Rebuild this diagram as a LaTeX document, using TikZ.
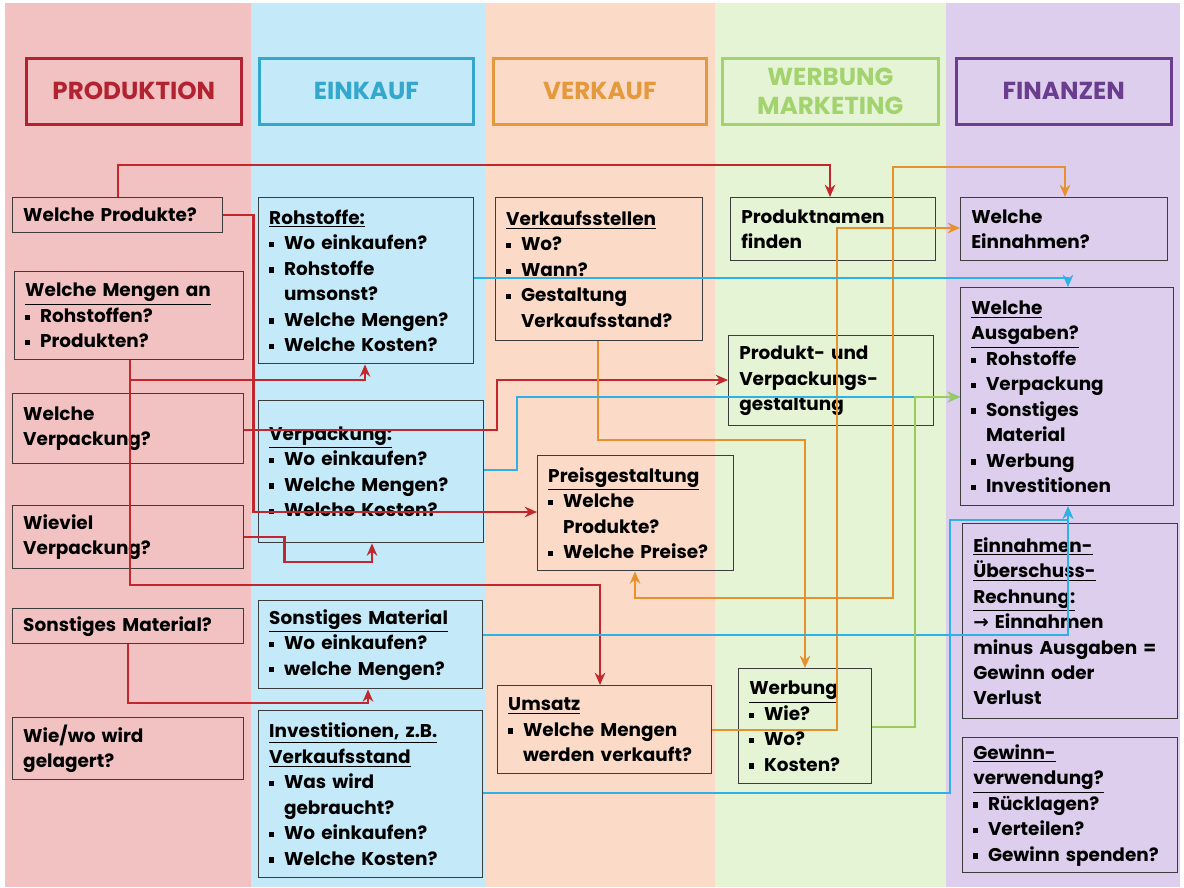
\documentclass[tikz,border=0pt]{standalone}
\usepackage{fontspec}
\setmainfont{Poppins}
\newfontfamily\arrowfont{DejaVu Sans}
\usetikzlibrary{positioning,arrows.meta,calc}

\definecolor{bgpro}{HTML}{F2C2C3}
\definecolor{bgein}{HTML}{C4E9F8}
\definecolor{bgver}{HTML}{FBDBC8}
\definecolor{bgwer}{HTML}{E6F4D6}
\definecolor{bgfin}{HTML}{DCCEEC}
\definecolor{hred}{HTML}{B22331}
\definecolor{hblue}{HTML}{34A7CC}
\definecolor{horange}{HTML}{E49A3C}
\definecolor{hgreen}{HTML}{A3D36F}
\definecolor{hpurple}{HTML}{6A3D8F}
\definecolor{lred}{HTML}{C1272D}
\definecolor{lorange}{HTML}{E8902E}
\definecolor{lblue}{HTML}{2EB1E4}
\definecolor{lgreen}{HTML}{9BCB5E}
\definecolor{boxline}{HTML}{3C3C3C}

\newcommand{\bul}{\makebox[0.8em][l]{\rule[0.25ex]{0.5ex}{0.5ex}}}
\newcommand{\bind}{\hspace*{0.8em}}

\begin{document}
\begin{tikzpicture}[
  x=0.02cm, y=-0.02cm,
  font=\fontsize{10.5}{14.5}\selectfont\bfseries,
  box/.style={draw=boxline, line width=0.8pt, anchor=north west, align=left, inner xsep=6pt, inner ysep=3pt},
  sz/.style 2 args={/utils/exec={\pgfmathsetlengthmacro\boxw{#1*0.02cm-12pt}}, text width=\boxw, minimum height=#2*0.02cm},
  head/.style={draw=#1, text=#1, line width=1.5pt, anchor=north west, align=center, font=\fontsize{14}{17}\selectfont\bfseries},
  hsz/.style 2 args={minimum width=#1*0.02cm, minimum height=#2*0.02cm},
  con/.style={line width=1.3pt, -{Stealth[length=7pt,width=6pt]}},
  conr/.style={con, draw=lred},
  cono/.style={con, draw=lorange},
  conb/.style={con, draw=lblue},
  cong/.style={con, draw=lgreen}
]

% columns
\fill[white] (0,0) rectangle (1184,887);
\fill[bgpro] (5,3) rectangle (251,887);
\fill[bgein] (251,3) rectangle (485,887);
\fill[bgver] (485,3) rectangle (715,887);
\fill[bgwer] (715,3) rectangle (946,887);
\fill[bgfin] (946,3) rectangle (1180,887);

% headers
\node[head=hred, hsz={215}{66}] (hp) at (25,57) {PRODUKTION};
\node[head=hblue, hsz={214}{66}] (he) at (258,57) {EINKAUF};
\node[head=horange, hsz={213}{66}] (hv) at (492,57) {VERKAUF};
\node[head=hgreen, hsz={216}{66}] (hw) at (721,57) {WERBUNG\\MARKETING};
\node[head=hpurple, hsz={215}{66}] (hf) at (955,57) {FINANZEN};

% Produktion
\node[box, sz={210}{35}] (pq) at (12,197) {Welche Produkte?};
\node[box, sz={229}{88}] (pm) at (14,271) {\underline{Welche Mengen an}\\\bul Rohstoffen?\\\bul Produkten?};
\node[box, sz={231}{70}] (pv) at (12,393) {Welche\\Verpackung?};
\node[box, sz={231}{63}] (pw) at (12,505) {Wieviel\\Verpackung?};
\node[box, sz={231}{35}] (ps) at (12,608) {Sonstiges Material?};
\node[box, sz={231}{62}] (pl) at (12,717) {Wie/wo wird\\gelagert?};

% Einkauf
\node[box, sz={215}{166}] (er) at (258,197) {\underline{Rohstoffe:}\\\bul Wo einkaufen?\\\bul Rohstoffe\\\bind umsonst?\\\bul Welche Mengen?\\\bul Welche Kosten?};
\node[box, sz={225}{142}] (ev) at (258,400) {\underline{Verpackung:}\\\bul Wo einkaufen?\\\bul Welche Mengen?\\\bul Welche Kosten?};
\node[box, sz={224}{88}] (es) at (258,600) {\underline{Sonstiges Material}\\\bul Wo einkaufen?\\\bul welche Mengen?};
\node[box, sz={224}{167}] (ei) at (258,710) {\underline{Investitionen, z.B.}\\\underline{Verkaufsstand}\\\bul Was wird\\\bind gebraucht?\\\bul Wo einkaufen?\\\bul Welche Kosten?};

% Verkauf
\node[box, sz={207}{143}] (vs) at (495,197) {\underline{Verkaufsstellen}\\\bul Wo?\\\bul Wann?\\\bul Gestaltung\\\bind Verkaufsstand?};
\node[box, sz={196}{115}] (vp) at (537,455) {\underline{Preisgestaltung}\\\bul Welche\\\bind Produkte?\\\bul Welche Preise?};
\node[box, sz={214}{88}] (vu) at (497,685) {\underline{Umsatz}\\\bul Welche Mengen\\\bind werden verkauft?};

% Werbung / Marketing
\node[box, sz={205}{63}] (wn) at (730,197) {Produktnamen\\finden};
\node[box, sz={205}{90}] (wg) at (728,335) {Produkt- und\\Verpackungs-\\gestaltung};
\node[box, sz={133}{115}] (ww) at (738,668) {\underline{Werbung}\\\bul Wie?\\\bul Wo?\\\bul Kosten?};

% Finanzen
\node[box, sz={207}{63}] (fe) at (960,197) {Welche\\Einnahmen?};
\node[box, sz={213}{218}] (fa) at (960,287) {\underline{Welche}\\\underline{Ausgaben?}\\\bul Rohstoffe\\\bul Verpackung\\\bul Sonstiges\\\bind Material\\\bul Werbung\\\bul Investitionen};
\node[box, sz={215}{195}] (fu) at (962,523) {\underline{Einnahmen-}\\\underline{Überschuss-}\\\underline{Rechnung:}\\{\arrowfont→} Einnahmen\\minus Ausgaben =\\Gewinn oder\\Verlust};
\node[box, sz={215}{135}] (fg) at (962,737) {\underline{Gewinn-}\\\underline{verwendung?}\\\bul Rücklagen?\\\bul Verteilen?\\\bul Gewinn spenden?};

% red connectors
\coordinate (mj) at (130,380);
\draw[conr] (pq.north) -- ++(0,-32) -| ($(wn.north west)+(100,0)$);
\draw[conr] (pq.east) -- ++(30,0) |- ($(vp.north west)+(0,57)$);
\draw[conr] ($(pm.south west)+(116,0)$) -- (130,585) -| ($(vu.north west)+(103,0)$);
\draw[conr] (mj) -| ($(er.south west)+(107,0)$);
\draw[conr] ($(pv.north east)+(0,37)$) -| (497,380) -- ($(wg.north west)+(0,45)$);
\draw[conr] (pw.east) -- ++(40,0) |- (372,562) -- ($(ev.south west)+(114,0)$);
\draw[conr] ($(ps.south west)+(116,0)$) |- (368,703) -- ($(es.south west)+(110,0)$);

% orange connectors
\draw[cono] ($(vs.south west)+(103,0)$) |- (805,440) -- ($(ww.north west)+(67,0)$);
\draw[cono] ($(vu.north east)+(0,45)$) -| (837,228) -- ($(fe.north west)+(0,31)$);
\draw[cono, {Stealth[length=7pt,width=6pt]}-{Stealth[length=7pt,width=6pt]}] ($(vp.south west)+(98,0)$) |- (893,598) |- (1065,167) -- ($(fe.north west)+(105,0)$);

% blue connectors
\draw[conb] ($(er.north east)+(0,81)$) -| ($(fa.north west)+(108,0)$);
\draw[conb] ($(ev.north east)+(0,70)$) -- (517,470) |- ($(fa.north west)+(0,110)$);
\draw[conb] ($(es.north east)+(0,35)$) -| ($(fa.south west)+(108,0)$);
\draw[conb] ($(ei.north east)+(0,83)$) -| (950,520) -| ($(fa.south west)+(108,0)$);

% green connector
\draw[cong] ($(ww.north east)+(0,59)$) -| (915,397) -- ($(fa.north west)+(0,110)$);

\end{tikzpicture}
\end{document}
